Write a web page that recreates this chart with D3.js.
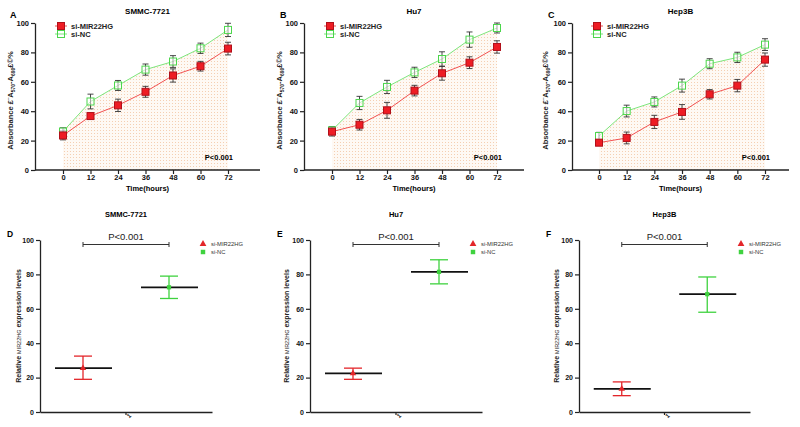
<!DOCTYPE html>
<html><head><meta charset="utf-8">
<script src="https://cdn.jsdelivr.net/npm/d3@7"></script>
<style>body{margin:0;background:#fff}svg{display:block}text{font-family:"Liberation Sans",Arial,sans-serif}</style>
</head><body><svg id="c" width="800" height="427"></svg>
<script>
// ---------- DATA ----------
const timePoints = [0, 12, 24, 36, 48, 60, 72];
const cellLines = ["SMMC-7721", "Hu7", "Hep3B"];
const seriesNames = ["si-MIR22HG", "si-NC"];
const yTicks = [0, 20, 40, 60, 80, 100];

const smmcMir = [23.5, 36.7, 44.0, 53.2, 64.3, 70.6, 82.6];
const smmcMirErr = [3.0, 2.0, 4.2, 3.7, 4.5, 3.3, 4.3];
const smmcNc = [26.2, 46.6, 57.5, 68.3, 73.8, 82.8, 95.3];
const smmcNcErr = [2.5, 5.0, 3.4, 3.8, 4.0, 3.5, 4.5];

const hu7Mir = [26.1, 30.8, 40.6, 54.0, 65.8, 73.0, 83.7];
const hu7MirErr = [3.0, 3.6, 5.4, 3.6, 4.7, 4.0, 4.2];
const hu7Nc = [27.0, 45.6, 56.5, 66.4, 75.5, 88.7, 96.6];
const hu7NcErr = [2.5, 4.5, 4.5, 3.5, 4.9, 5.2, 3.4];

const hep3bMir = [18.6, 21.8, 32.7, 39.5, 51.5, 57.4, 75.1];
const hep3bMirErr = [2.0, 4.0, 4.5, 5.0, 3.2, 4.2, 4.5];
const hep3bNc = [23.1, 40.1, 46.3, 57.4, 72.3, 76.6, 85.3];
const hep3bNcErr = [2.5, 4.0, 3.4, 4.4, 3.4, 3.5, 4.0];

// expression (D-F): mean, lower, upper
const exprCategory = ["1"];
const exprMirMean = [25.5, 22.5, 13.5];
const exprMirLow = [19.0, 19.0, 9.5];
const exprMirHigh = [32.5, 25.5, 17.5];
const exprNcMean = [72.5, 81.5, 68.5];
const exprNcLow = [66.0, 74.5, 58.0];
const exprNcHigh = [79.0, 88.5, 78.5];
const pLabel = "P<0.001";

// ---------- STYLE / LAYOUT ----------
const RED = "#ee1c24", REDDARK = "#b0101a", GREEN = "#4cd64c", GREENL = "#6ee36e";
const svg = d3.select("#c");
const defs = svg.append("defs");
const pat = defs.append("pattern").attr("id", "dots").attr("patternUnits", "userSpaceOnUse")
  .attr("width", 3).attr("height", 3);
pat.append("rect").attr("width", 3).attr("height", 3).attr("fill", "#fef9f4");
pat.append("rect").attr("x", 1).attr("y", 1).attr("width", 1).attr("height", 1).attr("fill", "#f4cfb2");

const topPanels = [
  {letter: "A", mir: smmcMir, mirE: smmcMirErr, nc: smmcNc, ncE: smmcNcErr, ax: 35, x0: 63, x72: 228, xe: 260, lx: 13, ltr: 10},
  {letter: "B", mir: hu7Mir, mirE: hu7MirErr, nc: hu7Nc, ncE: hu7NcErr, ax: 304, x0: 332, x72: 497, xe: 524, lx: 282, ltr: 280},
  {letter: "C", mir: hep3bMir, mirE: hep3bMirErr, nc: hep3bNc, ncE: hep3bNcErr, ax: 572, x0: 599, x72: 765, xe: 789, lx: 548, ltr: 548}
];

topPanels.forEach((p, i) => {
  const g = svg.append("g");
  const x = d3.scaleLinear().domain([0, 72]).range([p.x0, p.x72]);
  const y = d3.scaleLinear().domain([0, 100]).range([170, 23]);
  // area fill under si-NC
  g.append("path").datum(timePoints.map((t, k) => [t, p.nc[k]]))
    .attr("d", d3.area().x(d => x(d[0])).y0(y(0)).y1(d => y(d[1])))
    .attr("fill", "url(#dots)");
  // axes
  const yAx = g.append("g").attr("transform", `translate(${p.ax},0)`)
    .call(d3.axisLeft(y).tickValues(yTicks).tickSize(4).tickSizeOuter(0));
  const xAx = g.append("g").attr("transform", `translate(0,${y(0)})`)
    .call(d3.axisBottom(x).tickValues(timePoints).tickSize(4).tickSizeOuter(0));
  xAx.select(".domain").remove();
  g.append("line").attr("x1", p.ax).attr("x2", p.xe).attr("y1", y(0)).attr("y2", y(0))
    .attr("stroke", "#222").attr("stroke-width", 1.3);
  [yAx, xAx].forEach(a => {
    a.selectAll("line").attr("stroke", "#222").attr("stroke-width", 1.2);
    a.select(".domain").attr("stroke", "#222").attr("stroke-width", 1.3);
    a.selectAll("text").attr("font-size", 7.5).attr("font-weight", "bold").attr("fill", "#111");
  });
  yAx.selectAll("text").attr("x", -6);
  xAx.selectAll("text").attr("y", 5);
  // series
  const series = [
    {v: p.nc, e: p.ncE, color: GREENL, fill: "#fff", stroke: GREEN},
    {v: p.mir, e: p.mirE, color: "#f04040", fill: RED, stroke: REDDARK}
  ];
  series.forEach(s => {
    g.append("path").datum(timePoints.map((t, k) => [t, s.v[k]]))
      .attr("d", d3.line().x(d => x(d[0])).y(d => y(d[1])))
      .attr("fill", "none").attr("stroke", s.color).attr("stroke-width", 0.9);
  });
  series.forEach(s => {
    timePoints.forEach((t, k) => {
      const cx = x(t), lo = y(s.v[k] - s.e[k]), hi = y(s.v[k] + s.e[k]);
      g.append("line").attr("x1", cx).attr("x2", cx).attr("y1", lo).attr("y2", hi).attr("stroke", "#333").attr("stroke-width", 0.9);
      [lo, hi].forEach(yy => g.append("line").attr("x1", cx - 3).attr("x2", cx + 3).attr("y1", yy).attr("y2", yy).attr("stroke", "#333").attr("stroke-width", 0.9));
    });
  });
  series.forEach(s => {
    g.selectAll(null).data(timePoints.map((t, k) => [t, s.v[k]])).enter().append("rect")
      .attr("x", d => x(d[0]) - 3.5).attr("y", d => y(d[1]) - 3.5).attr("width", 7).attr("height", 7)
      .attr("fill", s.fill).attr("fill-opacity", s.fill === "#fff" ? 0.5 : 1)
      .attr("stroke", s.stroke).attr("stroke-width", 1);
  });
  // legend
  const lg = [{n: seriesNames[0], fill: RED, stroke: REDDARK, lc: "#f04040", y: 26}, {n: seriesNames[1], fill: "none", stroke: GREEN, lc: GREENL, y: 34}];
  lg.forEach(l => {
    const lx0 = p.x0 - 2;
    g.append("line").attr("x1", lx0 - 6).attr("x2", lx0 + 6).attr("y1", l.y).attr("y2", l.y).attr("stroke", l.lc).attr("stroke-width", 0.9);
    g.append("rect").attr("x", lx0 - 3.5).attr("y", l.y - 3.5).attr("width", 7).attr("height", 7).attr("fill", l.fill).attr("stroke", l.stroke);
    g.append("text").attr("x", lx0 + 10).attr("y", l.y + 2.7).attr("font-size", 7.5).attr("font-weight", "bold").attr("fill", "#222").text(l.n);
  });
  // texts
  g.append("text").attr("x", (p.ax + p.xe) / 2).attr("y", 14).attr("text-anchor", "middle").attr("font-size", 8).attr("font-weight", "bold").text(cellLines[i]);
  g.append("text").attr("x", p.ltr).attr("y", 18).attr("font-size", 9).attr("font-weight", "bold").text(p.letter);
  g.append("text").attr("x", p.x72 + 5).attr("y", 160).attr("text-anchor", "end").attr("font-size", 7.5).attr("font-weight", "bold").text(pLabel);
  g.append("text").attr("x", (p.ax + p.xe) / 2).attr("y", 191).attr("text-anchor", "middle").attr("font-size", 7.5).attr("font-weight", "bold").text("Time(hours)");
  const yl = g.append("text").attr("transform", `translate(${p.lx},${y(50) + 4}) rotate(-90)`).attr("text-anchor", "middle")
    .attr("font-size", 7.5).attr("font-weight", "bold").attr("fill", "#222");
  yl.append("tspan").text("Absorbance £¨A");
  yl.append("tspan").attr("font-size", 5).attr("dy", 2).text("570");
  yl.append("tspan").attr("dy", -2).text("-A");
  yl.append("tspan").attr("font-size", 5).attr("dy", 2).text("690");
  yl.append("tspan").attr("dy", -2).text("£©%");
});

// ---------- D-F ----------
const botPanels = [
  {letter: "D", ax: 40, xe: 212, lx: 21, ltr: 7},
  {letter: "E", ax: 310, xe: 482, lx: 289, ltr: 277},
  {letter: "F", ax: 579, xe: 750, lx: 559, ltr: 546}
];
botPanels.forEach((p, i) => {
  const g = svg.append("g");
  const y = d3.scaleLinear().domain([0, 100]).range([412, 240]);
  const xb = d3.scaleBand().domain(exprCategory).range([p.ax, p.xe]);
  const xs = d3.scalePoint().domain(seriesNames).range([0, xb.bandwidth()]).padding(0.5);
  const yAx = g.append("g").attr("transform", `translate(${p.ax},0)`)
    .call(d3.axisLeft(y).tickValues(yTicks).tickSize(4).tickSizeOuter(0));
  const xAx = g.append("g").attr("transform", `translate(0,${y(0)})`)
    .call(d3.axisBottom(xb).tickSize(3).tickSizeOuter(0));
  [yAx, xAx].forEach(a => {
    a.selectAll("line").attr("stroke", "#222").attr("stroke-width", 1.2);
    a.select(".domain").attr("stroke", "#222").attr("stroke-width", 1.3);
    a.selectAll("text").attr("font-size", 7).attr("font-weight", "bold").attr("fill", "#111");
  });
  yAx.selectAll("text").attr("x", -6);
  xAx.selectAll("text").attr("transform", "rotate(-45)").attr("text-anchor", "end").attr("x", 1).attr("y", 7).attr("dy", 0).attr("font-size", 6);

  const groups = [
    {n: seriesNames[0], m: exprMirMean[i], lo: exprMirLow[i], hi: exprMirHigh[i], c: "#e3262a", shape: d3.symbolTriangle},
    {n: seriesNames[1], m: exprNcMean[i], lo: exprNcLow[i], hi: exprNcHigh[i], c: "#3fd23f", shape: d3.symbolSquare}
  ];
  groups.forEach(gr => {
    const cx = xb(exprCategory[0]) + xs(gr.n);
    g.append("line").attr("x1", cx - 28).attr("x2", cx + 29).attr("y1", y(gr.m)).attr("y2", y(gr.m)).attr("stroke", "#111").attr("stroke-width", 1.8);
    g.append("line").attr("x1", cx).attr("x2", cx).attr("y1", y(gr.lo)).attr("y2", y(gr.hi)).attr("stroke", gr.c).attr("stroke-width", 1.3);
    [gr.lo, gr.hi].forEach(v => g.append("line").attr("x1", cx - 9).attr("x2", cx + 9).attr("y1", y(v)).attr("y2", y(v)).attr("stroke", gr.c).attr("stroke-width", 1.3));
    g.append("path").attr("transform", `translate(${cx},${y(gr.m)})`).attr("d", d3.symbol().type(gr.shape).size(18)()).attr("fill", gr.c);
  });
  // significance bracket
  const bx1 = xb(exprCategory[0]) + xs(seriesNames[0]), bx2 = xb(exprCategory[0]) + xs(seriesNames[1]);
  g.append("line").attr("x1", bx1).attr("x2", bx2).attr("y1", 244.5).attr("y2", 244.5).attr("stroke", "#333").attr("stroke-width", 1);
  [bx1, bx2].forEach(bx => g.append("line").attr("x1", bx).attr("x2", bx).attr("y1", 242).attr("y2", 247).attr("stroke", "#333").attr("stroke-width", 1));
  g.append("text").attr("x", (bx1 + bx2) / 2).attr("y", 240).attr("text-anchor", "middle").attr("font-size", 9.5).attr("fill", "#222").text(pLabel);
  // legend
  groups.forEach((gr, k) => {
    const ly = 244 + k * 8;
    g.append("path").attr("transform", `translate(${p.xe - 9},${ly})`).attr("d", d3.symbol().type(gr.shape).size(20)()).attr("fill", gr.c);
    g.append("text").attr("x", p.xe - 1).attr("y", ly + 2.2).attr("font-size", 5.8).attr("fill", "#333").text(gr.n);
  });
  g.append("text").attr("x", (p.ax + p.xe) / 2).attr("y", 217).attr("text-anchor", "middle").attr("font-size", 7.5).attr("font-weight", "bold").text(cellLines[i]);
  g.append("text").attr("x", p.ltr).attr("y", 237).attr("font-size", 8.5).attr("font-weight", "bold").text(p.letter);
  const yl = g.append("text").attr("transform", `translate(${p.lx},${y(50)}) rotate(-90)`).attr("text-anchor", "middle")
    .attr("font-size", 7).attr("font-weight", "bold").attr("fill", "#222");
  yl.append("tspan").text("Relative ");
  yl.append("tspan").attr("font-size", 5.5).attr("font-weight", "normal").text("MIR22HG");
  yl.append("tspan").text(" expression levels");
});
</script></body></html>
